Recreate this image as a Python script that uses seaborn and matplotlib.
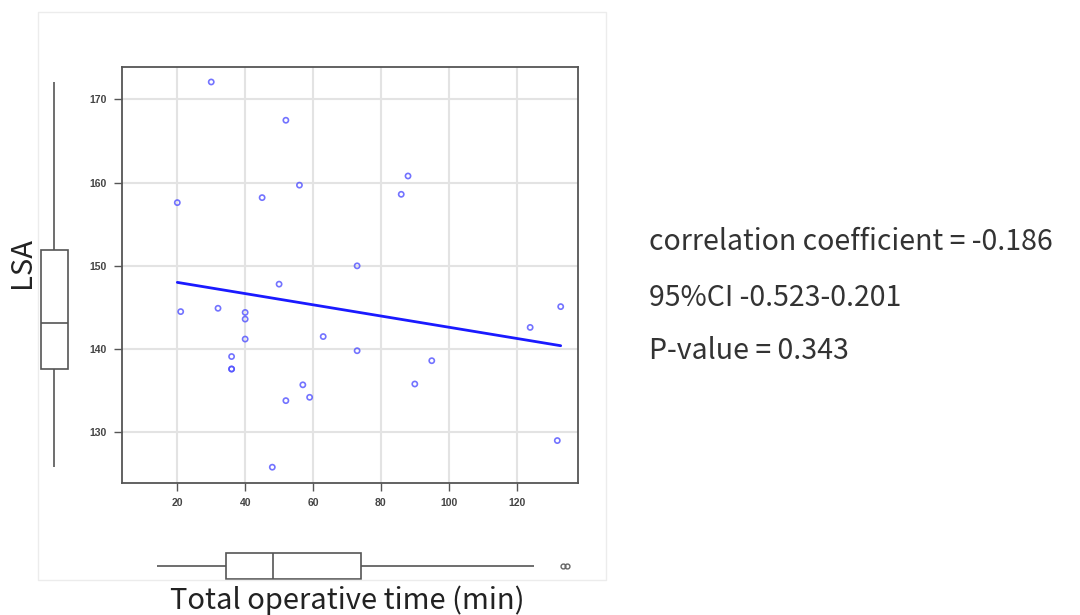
import numpy as np
import pandas as pd
import matplotlib
matplotlib.use('Agg')
import matplotlib.pyplot as plt
import seaborn as sns
from matplotlib.patches import Rectangle

# Data
op_time = [30, 52, 20, 45, 56, 73, 88, 86,
           21, 32, 40, 40, 40, 50, 36, 36, 36, 63, 73, 57, 59, 52, 48,
           133, 124, 95, 90, 132]
lsa = [172.1, 167.5, 157.6, 158.2, 159.7, 150.0, 160.8, 158.6,
       144.5, 144.9, 144.4, 143.6, 141.2, 147.8, 139.1, 137.6, 137.6, 141.5, 139.8, 135.7, 134.2, 133.8, 125.8,
       145.1, 142.6, 138.6, 135.8, 129.0]
stats_text = ['correlation coefficient = -0.186', '95%CI -0.523-0.201', 'P-value = 0.343']
x_ticks = [20, 40, 60, 80, 100, 120]
y_ticks = [130, 140, 150, 160, 170]

df = pd.DataFrame({'Total operative time (min)': op_time, 'LSA': lsa})

sns.set_style('white')
plt.rcParams['font.family'] = ['Noto Sans CJK JP', 'DejaVu Sans']

W, H = 1080, 615
fig = plt.figure(figsize=(W / 100, H / 100), dpi=100)

def px_axes(l, t, r, b):
    return fig.add_axes([l / W, 1 - b / H, (r - l) / W, (b - t) / H])

# faint panel frame
fig.patches.append(Rectangle((38 / W, 1 - 580 / H), (606 - 38) / W, (580 - 12) / H,
                             transform=fig.transFigure, fill=False, edgecolor='#ececec', lw=1))

# main scatter
ax = px_axes(122, 67, 578, 483)
sns.regplot(data=df, x='Total operative time (min)', y='LSA', ax=ax, ci=None,
            scatter_kws=dict(s=14, facecolors='none', edgecolors='#5050ff', linewidths=1.2),
            line_kws=dict(color='#1a1aff', lw=2))
ax.set_xlim(3.7, 138.1)
ax.set_ylim(123.9, 173.9)
ax.set_xticks(x_ticks)
ax.set_yticks(y_ticks)
ax.grid(True, color='#e3e3e3', lw=1.5)
ax.set_axisbelow(True)
for s in ax.spines.values():
    s.set_color('#555555')
    s.set_linewidth(1.3)
ax.tick_params(axis='both', direction='out', length=6, width=1, color='#555555',
               labelsize=7.5, labelcolor='#444444', pad=5, left=True, bottom=True)
for lab in ax.get_xticklabels() + ax.get_yticklabels():
    lab.set_family('Liberation Sans')
    lab.set_weight('bold')
ax.set_xlabel('')
ax.set_ylabel('')

box_style = dict(boxprops=dict(facecolor='white', edgecolor='#555555', lw=1.2),
                 whiskerprops=dict(color='#555555', lw=1.2),
                 capprops=dict(lw=0),
                 medianprops=dict(color='#555555', lw=1.2),
                 flierprops=dict(marker='o', markersize=3.5, markerfacecolor='none',
                                 markeredgecolor='#666666', markeredgewidth=1))

# left marginal boxplot (LSA)
axl = px_axes(27, 67, 81, 483)
sns.boxplot(y=df['LSA'], ax=axl, width=0.5, whis=1.5, **box_style)
axl.set_ylim(123.9, 173.9)
axl.axis('off')

# bottom marginal boxplot (operative time)
axb = px_axes(122, 544, 578, 588)
sns.boxplot(x=df['Total operative time (min)'], ax=axb, width=0.6, whis=1.4, **box_style)
axb.set_xlim(10.5, 136.0)
axb.axis('off')

fig.text(22 / W, 1 - 263 / H, 'LSA', rotation=90, fontsize=21, color='#222222',
         ha='center', va='center')
fig.text(347 / W, 1 - 601 / H, 'Total operative time (min)', fontsize=21, color='#222222',
         ha='center', va='center')

for txt, y in zip(stats_text, [242, 298, 351]):
    fig.text(649 / W, 1 - y / H, txt, fontsize=20.5, color='#333333', ha='left', va='center')

fig.savefig('out.png', dpi=100)
